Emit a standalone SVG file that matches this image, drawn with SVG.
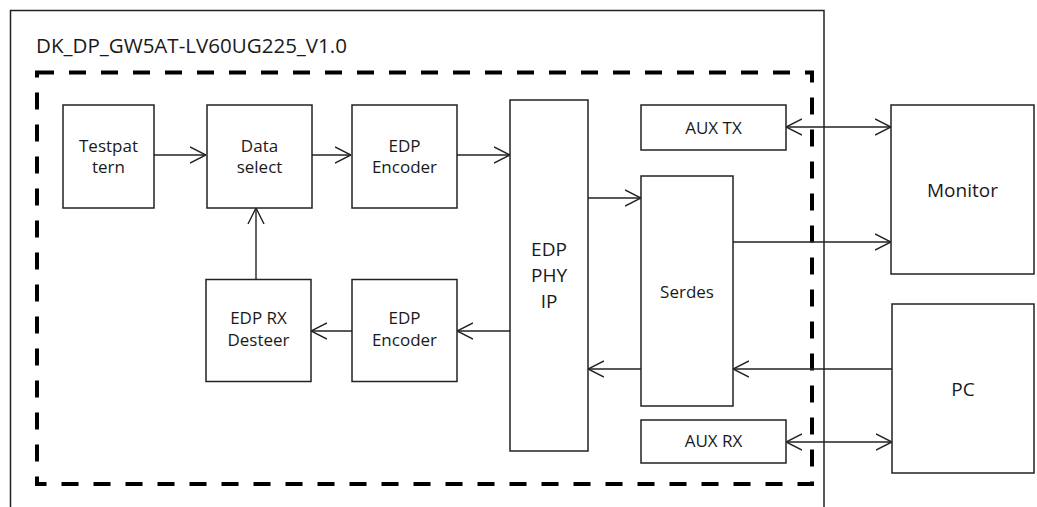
<svg xmlns="http://www.w3.org/2000/svg" width="1037" height="507" viewBox="0 0 1037 507">
<style>
.box{fill:#fff;stroke:#222;stroke-width:1.5}
.lbl{font-family:"Open Sans","Noto Sans",sans-serif;font-size:17px;fill:#1a1a1a;text-anchor:middle}
.big{font-size:19px}
.con{stroke:#222;stroke-width:1.4;fill:none}
</style>
<defs>
<marker id="ah" viewBox="0 0 16 18" refX="16" refY="9" markerWidth="16" markerHeight="18" markerUnits="userSpaceOnUse" orient="auto-start-reverse">
<path d="M0,1 L16,9 L0,17" fill="none" stroke="#222" stroke-width="1.4"/>
</marker>
</defs>
<rect width="1037" height="507" fill="#fff"/>
<g id="frame">
<rect x="10.5" y="10.5" width="813.5" height="520" fill="none" stroke="#222" stroke-width="1.5"/>
<text x="36" y="53" font-family="'Open Sans','Noto Sans',sans-serif" font-size="19.5" fill="#1a1a1a" textLength="311" lengthAdjust="spacingAndGlyphs">DK_DP_GW5AT-LV60UG225_V1.0</text>
<rect x="37" y="72.5" width="775" height="411.5" fill="none" stroke="#000" stroke-width="4" stroke-dasharray="17,15"/>
</g>
<g id="connectors">
<path class="con" d="M154,155 H206" marker-end="url(#ah)"/>
<path class="con" d="M312,155 H351" marker-end="url(#ah)"/>
<path class="con" d="M457,155 H510" marker-end="url(#ah)"/>
<path class="con" d="M256,279 V208" marker-end="url(#ah)"/>
<path class="con" d="M510,331 H457" marker-end="url(#ah)"/>
<path class="con" d="M352,331 H311" marker-end="url(#ah)"/>
<path class="con" d="M588,198 H641" marker-end="url(#ah)"/>
<path class="con" d="M733,242 H891" marker-end="url(#ah)"/>
<path class="con" d="M786,127 H891" marker-start="url(#ah)" marker-end="url(#ah)"/>
<path class="con" d="M892,369 H733" marker-end="url(#ah)"/>
<path class="con" d="M641,369 H588" marker-end="url(#ah)"/>
<path class="con" d="M786,442 H892" marker-start="url(#ah)" marker-end="url(#ah)"/>
</g>
<g id="testpattern">
<rect class="box" x="63" y="105" width="91" height="103"/>
<text class="lbl" x="108.5" y="152">Testpat</text>
<text class="lbl" x="108.5" y="173">tern</text>
</g>
<g id="dataselect">
<rect class="box" x="207" y="105" width="105" height="103"/>
<text class="lbl" x="259.5" y="152">Data</text>
<text class="lbl" x="259.5" y="173">select</text>
</g>
<g id="edpencoder-tx">
<rect class="box" x="352" y="105" width="105" height="103"/>
<text class="lbl" x="404.5" y="152">EDP</text>
<text class="lbl" x="404.5" y="173">Encoder</text>
</g>
<g id="edprxdesteer">
<rect class="box" x="206" y="279.5" width="105" height="102"/>
<text class="lbl" x="258.5" y="324">EDP RX</text>
<text class="lbl" x="258.5" y="346">Desteer</text>
</g>
<g id="edpencoder-rx">
<rect class="box" x="352" y="279.5" width="105" height="102"/>
<text class="lbl" x="404.5" y="324">EDP</text>
<text class="lbl" x="404.5" y="346">Encoder</text>
</g>
<g id="edpphyip">
<rect class="box" x="510" y="100" width="78" height="351"/>
<text class="lbl big" x="549" y="256">EDP</text>
<text class="lbl big" x="549" y="282">PHY</text>
<text class="lbl big" x="549" y="308">IP</text>
</g>
<g id="auxtx">
<rect class="box" x="641" y="105" width="145" height="45"/>
<text class="lbl" x="713.5" y="134">AUX TX</text>
</g>
<g id="serdes">
<rect class="box" x="641" y="176" width="92" height="230"/>
<text class="lbl" x="687" y="298">Serdes</text>
</g>
<g id="auxrx">
<rect class="box" x="641" y="420" width="145" height="43"/>
<text class="lbl" x="713.5" y="447">AUX RX</text>
</g>
<g id="monitor">
<rect class="box" x="891" y="105" width="143" height="169"/>
<text class="lbl big" x="962.5" y="197">Monitor</text>
</g>
<g id="pc">
<rect class="box" x="892" y="304" width="142" height="169"/>
<text class="lbl big" x="963" y="396">PC</text>
</g>
</svg>
